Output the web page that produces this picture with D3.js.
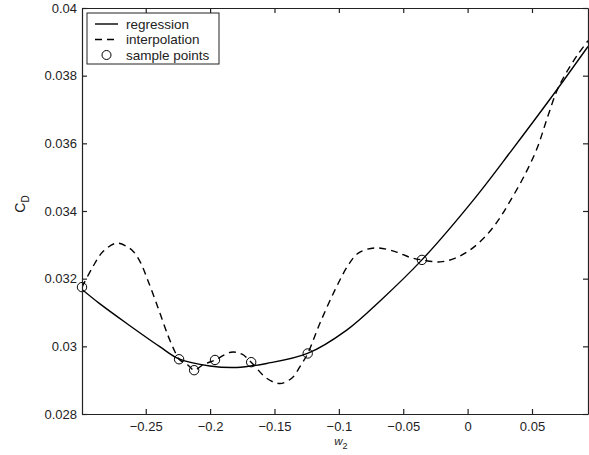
<!DOCTYPE html>
<html>
<head>
<meta charset="utf-8">
<script src="https://cdn.jsdelivr.net/npm/d3@7"></script>
<style>
    html, body { margin: 0; padding: 0; background: #fff; }
    text { font-family: "Liberation Sans", Arial, sans-serif; fill: #222; }
</style>
</head>
<body>
<div id="chart"></div>
<script>
// C_D against w_2: regression fit, interpolation and the sample points

// sample points
const sampleW = [-0.2995, -0.2241, -0.2124, -0.1962, -0.1681, -0.1242, -0.0355];
const sampleCD = [0.03175, 0.029618, 0.029295, 0.029597, 0.029532, 0.029789, 0.032555];

// regression curve
const regW = [-0.2995, -0.2858, -0.2650, -0.2391, -0.2241, -0.2002, -0.1794, -0.1561, -0.1244,
    -0.0939, -0.0680, -0.0355, 0.0046, 0.0345, 0.0642, 0.0935];
const regCD = [0.031682, 0.031262, 0.030683, 0.029991, 0.029627, 0.029420, 0.029375, 0.029494, 0.029789,
    0.030480, 0.031342, 0.032555, 0.034330, 0.035808, 0.037317, 0.038864];

// interpolation curve
const intW = [-0.2995, -0.2910, -0.2832, -0.2728, -0.2650, -0.2593, -0.2539, -0.2482, -0.2404, -0.2329,
    -0.2274, -0.2241, -0.2173, -0.2124, -0.2057, -0.1962, -0.1839, -0.1756, -0.1681, -0.1561,
    -0.1458, -0.1364, -0.1302, -0.1242, -0.1147, -0.1030, -0.0926, -0.0849, -0.0719, -0.0563,
    -0.0447, -0.0355, -0.0213, -0.0096, 0.0020, 0.0137, 0.0240, 0.0331, 0.0440, 0.0541,
    0.0619, 0.0697, 0.0775, 0.0860, 0.0935];
const intCD = [0.03175, 0.032357, 0.032800, 0.033049, 0.032958, 0.032791, 0.032466, 0.031934, 0.031135, 0.030337,
    0.029849, 0.029618, 0.029450, 0.029295, 0.029450, 0.029597, 0.029825, 0.029775, 0.029532, 0.029056,
    0.028902, 0.029065, 0.029399, 0.029789, 0.030683, 0.031668, 0.032407, 0.032753, 0.032910, 0.032800,
    0.032629, 0.032555, 0.032496, 0.032605, 0.032851, 0.033244, 0.033738, 0.034300, 0.035039, 0.035868,
    0.036755, 0.037583, 0.038145, 0.038648, 0.039032];

const xTicks = [-0.25, -0.2, -0.15, -0.1, -0.05, 0, 0.05];
const xTickLabels = ["\u22120.25", "\u22120.2", "\u22120.15", "\u22120.1", "\u22120.05", "0", "0.05"];
const yTicks = [0.028, 0.03, 0.032, 0.034, 0.036, 0.038, 0.04];
const yTickLabels = ["0.028", "0.03", "0.032", "0.034", "0.036", "0.038", "0.04"];

const legendLabels = ["regression", "interpolation", "sample points"];

const margin = { top: 8, right: 1, bottom: 41, left: 82 };
const width = 589 - margin.left - margin.right;
const height = 455 - margin.top - margin.bottom;

const svg = d3.select("#chart")
    .append("svg")
    .attr("width", 589)
    .attr("height", 455)
    .append("g")
    .attr("transform", `translate(${margin.left},${margin.top})`);

const x = d3.scaleLinear().domain([-0.2995, 0.0935]).range([0, width]);
const y = d3.scaleLinear().domain([0.028, 0.04]).range([height, 0]);

svg.append("clipPath")
    .attr("id", "plotClip")
    .append("rect")
    .attr("width", width)
    .attr("height", height);

const line = d3.line()
    .x(d => x(d[0]))
    .y(d => y(d[1]))
    .curve(d3.curveCatmullRom.alpha(0.5));

svg.append("path")
    .datum(regW.map((w, i) => [w, regCD[i]]))
    .attr("clip-path", "url(#plotClip)")
    .attr("fill", "none")
    .attr("stroke", "#000")
    .attr("stroke-width", 1.4)
    .attr("d", line);

svg.append("path")
    .datum(intW.map((w, i) => [w, intCD[i]]))
    .attr("clip-path", "url(#plotClip)")
    .attr("fill", "none")
    .attr("stroke", "#000")
    .attr("stroke-width", 1.4)
    .attr("stroke-dasharray", "7,5")
    .attr("d", line);

svg.selectAll(".sample")
    .data(sampleW.map((w, i) => [w, sampleCD[i]]))
    .enter()
    .append("circle")
    .attr("class", "sample")
    .attr("cx", d => x(d[0]))
    .attr("cy", d => y(d[1]))
    .attr("r", 4.7)
    .attr("fill", "none")
    .attr("stroke", "#000")
    .attr("stroke-width", 1);

// axes, ticks pointing inward
const xAxis = svg.append("g")
    .attr("transform", `translate(0,${height})`)
    .call(d3.axisBottom(x).tickValues(xTicks).tickSize(-5).tickSizeOuter(0).tickPadding(8)
        .tickFormat((d, i) => xTickLabels[i]));

const yAxis = svg.append("g")
    .call(d3.axisLeft(y).tickValues(yTicks).tickSize(-5).tickSizeOuter(0).tickPadding(5)
        .tickFormat((d, i) => yTickLabels[i]));

const topAxis = svg.append("g")
    .call(d3.axisTop(x).tickValues(xTicks).tickSize(-5).tickSizeOuter(0).tickFormat(""));

const rightAxis = svg.append("g")
    .attr("transform", `translate(${width},0)`)
    .call(d3.axisRight(y).tickValues(yTicks).tickSize(-5).tickSizeOuter(0).tickFormat(""));

[xAxis, yAxis, topAxis, rightAxis].forEach(g => {
    g.selectAll("path, line").attr("stroke", "#222").attr("stroke-width", 1.2);
    g.selectAll("text").attr("font-size", 13).attr("fill", "#222")
        .style("font-family", "'Liberation Sans', Arial, sans-serif");
});

// axis labels
const xLabel = svg.append("text")
    .attr("x", x(-0.1) + 2)
    .attr("y", height + 31)
    .attr("text-anchor", "middle")
    .attr("font-size", 11.5);
xLabel.append("tspan").attr("font-style", "italic").text("w");
xLabel.append("tspan").attr("font-size", 9).attr("dy", 4).text("2");

const yLabel = svg.append("text")
    .attr("transform", `translate(${25 - margin.left},${204 - margin.top}) rotate(-90)`)
    .attr("text-anchor", "middle")
    .attr("font-size", 14);
yLabel.append("tspan").text("C");
yLabel.append("tspan").attr("font-size", 10).attr("dy", 4).text("D");

// legend
const legend = svg.append("g")
    .attr("transform", `translate(${87 - margin.left},${13 - margin.top})`);

legend.append("rect")
    .attr("width", 132)
    .attr("height", 51)
    .attr("fill", "#fff")
    .attr("stroke", "#222")
    .attr("stroke-width", 1);

legendLabels.forEach((label, i) => {
    const row = legend.append("g").attr("transform", `translate(0,${11 + i * 15.5})`);
    if (i < 2) {
        row.append("line")
            .attr("x1", 8).attr("x2", 31)
            .attr("stroke", "#000")
            .attr("stroke-width", 1.4)
            .attr("stroke-dasharray", i === 1 ? "7,5" : null);
    } else {
        row.append("circle")
            .attr("cx", 19.5)
            .attr("r", 4.5)
            .attr("fill", "none")
            .attr("stroke", "#000");
    }
    row.append("text")
        .attr("x", 39)
        .attr("dy", "0.35em")
        .attr("font-size", 13.5)
        .text(label);
});
</script>
</body>
</html>
